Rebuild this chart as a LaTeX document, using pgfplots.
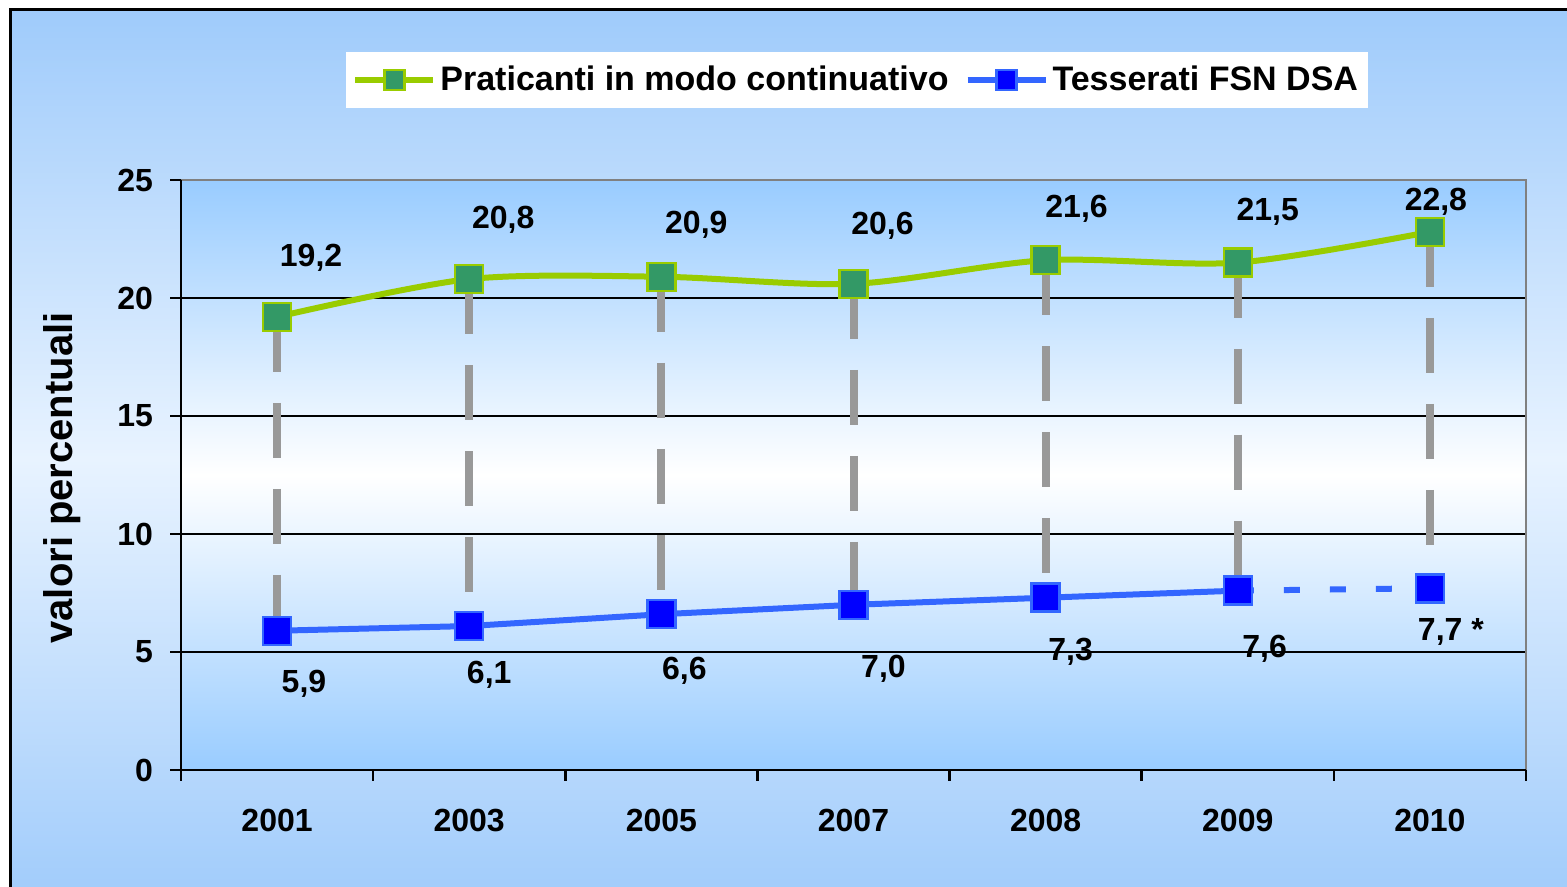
\documentclass[border=0pt]{standalone}
\usepackage{fontspec}
\setmainfont{Liberation Sans}
\usepackage{pgfplots}
\pgfplotsset{compat=1.18}

\definecolor{bgtop}{HTML}{9FCBFB}
\definecolor{bgmid}{HTML}{E8F3FF}
\definecolor{plottop}{HTML}{99CCFF}
\definecolor{gline}{HTML}{99CC00}
\definecolor{gfill}{HTML}{339966}
\definecolor{bline}{HTML}{3366FF}
\definecolor{bfill}{HTML}{0000FF}
\definecolor{drop}{HTML}{999999}

\newcommand{\lbl}{\bfseries\fontsize{16}{18}\selectfont}

\begin{document}
\begin{tikzpicture}
\path[use as bounding box] (0pt,0pt) rectangle (783.5pt,443.5pt);
\begin{scope}
  \clip (0pt,0pt) rectangle (783.5pt,443.5pt);
  \shade[top color=bgtop, bottom color=bgtop, middle color=bgmid] (5pt,-10pt) rectangle (800pt,438.5pt);
  \draw[line width=1.5pt] (5pt,-10pt) -- (5pt,438.5pt) -- (800pt,438.5pt);
\end{scope}

\begin{axis}[
  at={(90.5pt,58.5pt)}, anchor=south west,
  scale only axis, width=672.5pt, height=295pt,
  xmin=-0.5, xmax=6.5, ymin=0, ymax=25,
  clip=false,
  axis line style={draw=none},
  axis background/.style={top color=plottop, bottom color=plottop, middle color=white},
  ymajorgrids, grid style={black, line width=1pt},
  ytick={0,5,...,25},
  xtick pos=bottom, ytick pos=left,
  tick align=outside, major tick length=5.5pt,
  ytick style={black, line width=1pt},
  xtick style={black, line width=1.25pt},
  xtick={-0.5,0.5,1.5,2.5,3.5,4.5,5.5,6.5}, xticklabels={},
  extra x ticks={0,1,2,3,4,5,6},
  extra x tick labels={2001,2003,2005,2007,2008,2009,2010},
  extra x tick style={major tick length=0pt, grid=none},
  tick label style={font=\lbl},
  xticklabel style={yshift=-16pt},
  yticklabel style={xshift=-5pt},
  /pgf/number format/assume math mode=true,
  ylabel={valori percentuali},
  ylabel style={font=\bfseries\fontsize{20}{22}\selectfont, at={(axis description cs:-0.0885,0.495)}, anchor=center},
  legend columns=2,
  legend style={at={(axis description cs:0.1227,1.217)}, anchor=north west,
    fill=white, draw=none, font=\bfseries\fontsize{17}{19}\selectfont,
    inner xsep=3pt, inner ysep=5pt,
    /tikz/every even column/.append style={column sep=6pt}},
  legend image code/.code={\draw[#1, mark size=5pt, mark repeat=2, mark phase=2]
    plot coordinates {(0pt,0pt) (19.5pt,0pt) (39pt,0pt)};},
]
% gray drop lines
\addplot[forget plot, drop, line width=4pt, dash pattern=on 27.5pt off 15.5pt, unbounded coords=jump]
  coordinates {(0,19.2) (0,5.9) (0,nan) (1,20.8) (1,6.1) (1,nan) (2,20.9) (2,6.6) (2,nan)
    (3,20.6) (3,7.0) (3,nan) (4,21.6) (4,7.3) (4,nan) (5,21.5) (5,7.6) (5,nan) (6,22.8) (6,7.7)};
\addplot[smooth, gline, line width=3pt, mark=square*, mark size=7pt,
  mark options={fill=gfill, draw=gline, line width=1.25pt}]
  coordinates {(0,19.2) (1,20.8) (2,20.9) (3,20.6) (4,21.6) (5,21.5) (6,22.8)};
\addlegendentry{Praticanti in modo continuativo}
\addplot[forget plot, bline, line width=3pt, dash pattern=on 8pt off 15pt]
  coordinates {(5,7.6) (6,7.7)};
\addplot[bline, line width=3pt, mark=square*, mark size=7pt,
  mark options={fill=bfill, draw=bline, line width=1.25pt}]
  coordinates {(0,5.9) (1,6.1) (2,6.6) (3,7.0) (4,7.3) (5,7.6)};
\addlegendentry{Tesserati FSN DSA}
\addplot[forget plot, only marks, mark=square*, mark size=7pt,
  mark options={fill=bfill, draw=bline, line width=1.25pt}]
  coordinates {(6,7.7)};

\draw[color={rgb,255:red,128;green,128;blue,128}, line width=1pt]
  (rel axis cs:0,1) -- (rel axis cs:1,1) -- (rel axis cs:1,0);
\draw[black, line width=1.25pt] (rel axis cs:0,1) -- (rel axis cs:0,0) -- (rel axis cs:1,0);

\node[font=\lbl] at (axis cs:0.177,21.69) {19,2};
\node[font=\lbl] at (axis cs:1.177,23.31) {20,8};
\node[font=\lbl] at (axis cs:2.182,23.09) {20,9};
\node[font=\lbl] at (axis cs:3.151,23.05) {20,6};
\node[font=\lbl] at (axis cs:4.161,23.77) {21,6};
\node[font=\lbl] at (axis cs:5.156,23.64) {21,5};
\node[font=\lbl] at (axis cs:6.031,24.07) {22,8};

\node[font=\lbl] at (axis cs:0.14,3.64) {5,9};
\node[font=\lbl] at (axis cs:1.104,4.03) {6,1};
\node[font=\lbl] at (axis cs:2.12,4.19) {6,6};
\node[font=\lbl] at (axis cs:3.156,4.28) {7,0};
\node[font=\lbl] at (axis cs:4.13,5.0) {7,3};
\node[font=\lbl] at (axis cs:5.14,5.13) {7,6};
\node[font=\lbl] at (axis cs:6.109,5.85) {7,7 *};
\end{axis}
\end{tikzpicture}
\end{document}
